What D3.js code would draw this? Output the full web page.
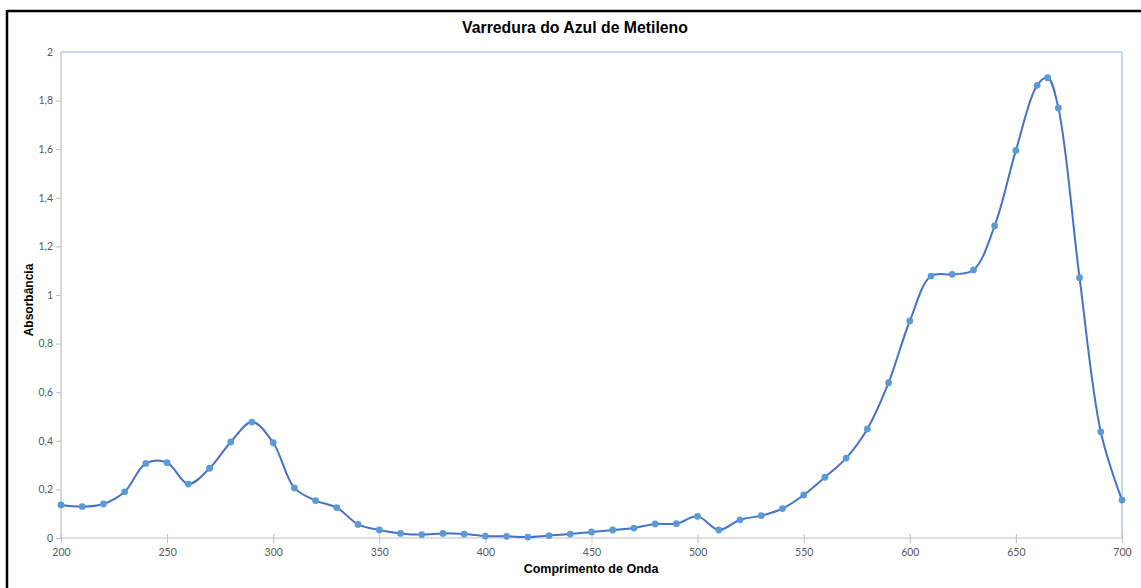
<!DOCTYPE html>
<html><head><meta charset="utf-8">
<script src="https://cdn.jsdelivr.net/npm/d3@7"></script>
<style>body{margin:0;background:#fff}svg{display:block}</style>
</head><body>
<svg id="c" width="1141" height="588"></svg>
<script>
const wavelengths = [200,210,220,230,240,250,260,270,280,290,300,310,320,330,340,350,360,370,380,390,400,410,420,430,440,450,460,470,480,490,500,510,520,530,540,550,560,570,580,590,600,610,620,630,640,650,660,665,670,680,690,700];
const absorbance = [0.136,0.129,0.140,0.190,0.307,0.310,0.222,0.287,0.395,0.477,0.392,0.206,0.154,0.125,0.056,0.033,0.019,0.014,0.019,0.016,0.008,0.007,0.004,0.010,0.016,0.025,0.033,0.041,0.058,0.059,0.089,0.033,0.075,0.092,0.121,0.177,0.250,0.329,0.449,0.639,0.893,1.078,1.085,1.103,1.285,1.595,1.863,1.894,1.770,1.071,0.437,0.156];
const xTicks = [200,250,300,350,400,450,500,550,600,650,700];
const yTicks = [0,0.2,0.4,0.6,0.8,1,1.2,1.4,1.6,1.8,2];
const title = "Varredura do Azul de Metileno";
const xTitle = "Comprimento de Onda";
const yTitle = "Absorbância";

const svg = d3.select("#c");
const L = 61, R = 1122, T = 52, B = 538;
const x = d3.scaleLinear().domain([200,700]).range([L,R]);
const y = d3.scaleLinear().domain([0,2]).range([B,T]);
const data = wavelengths.map((w,i)=>({w, a: absorbance[i]}));

// outer frame
svg.append("line").attr("x1",7).attr("x2",1141).attr("y1",11).attr("y2",11).attr("stroke","#000").attr("stroke-width",2.5);
svg.append("line").attr("x1",7).attr("x2",7).attr("y1",10).attr("y2",588).attr("stroke","#000").attr("stroke-width",2.5);

// plot area border (top/right light blue)
svg.append("line").attr("x1",L).attr("x2",R).attr("y1",T).attr("y2",T).attr("stroke","#b4c7e7").attr("stroke-width",1.5);
svg.append("line").attr("x1",R).attr("x2",R).attr("y1",T).attr("y2",B).attr("stroke","#b4c7e7").attr("stroke-width",1.5);

// axes
const font = "Lato, 'Liberation Sans', Arial, sans-serif";
const fmt = d => String(+d.toFixed(1)).replace(".", ",");
const yAxis = svg.append("g").attr("transform",`translate(${L},0)`)
  .call(d3.axisLeft(y).tickValues(yTicks).tickSize(5).tickPadding(3).tickFormat(fmt));
const xAxis = svg.append("g").attr("transform",`translate(0,${B})`)
  .call(d3.axisBottom(x).tickValues(xTicks).tickSize(5).tickPadding(6).tickFormat(d3.format("d")));
[yAxis,xAxis].forEach(g=>{
  g.select(".domain").attr("stroke","#bfbfbf").attr("stroke-width",1.2);
  g.selectAll(".tick line").attr("stroke","#bfbfbf");
  g.selectAll(".tick text").attr("fill","#595959").style("font-family",font).style("font-size","10.5px");
});
yAxis.select(".tick:last-of-type line").remove();
yAxis.select(".domain").attr("d",`M0,${B}V${T}`);
xAxis.select(".domain").attr("d",`M${L},0H${R}`);
xAxis.selectAll(".tick line").attr("y1",-4);

// line
const line = d3.line().x(d=>x(d.w)).y(d=>y(d.a)).curve(d3.curveCatmullRom.alpha(0.5));
svg.append("path").datum(data).attr("d",line).attr("fill","none").attr("stroke","#4472c4").attr("stroke-width",2);
svg.append("g").selectAll("circle").data(data).join("circle")
  .attr("cx",d=>x(d.w)).attr("cy",d=>y(d.a)).attr("r",3.4).attr("fill","#5b9bd5");

// titles
const tf = "'Liberation Sans', Arial, sans-serif";
svg.append("text").attr("x",575).attr("y",33).attr("text-anchor","middle")
  .style("font-family",tf).style("font-size","15.8px").style("font-weight","bold").attr("fill","#000").text(title);
svg.append("text").attr("x",591).attr("y",573).attr("text-anchor","middle")
  .style("font-family",tf).style("font-size","12.5px").style("font-weight","bold").attr("fill","#000").text(xTitle);
svg.append("text").attr("transform","translate(33,300) rotate(-90)").attr("text-anchor","middle")
  .style("font-family",tf).style("font-size","12px").style("font-weight","bold").attr("fill","#000").text(yTitle);
</script>
</body></html>
